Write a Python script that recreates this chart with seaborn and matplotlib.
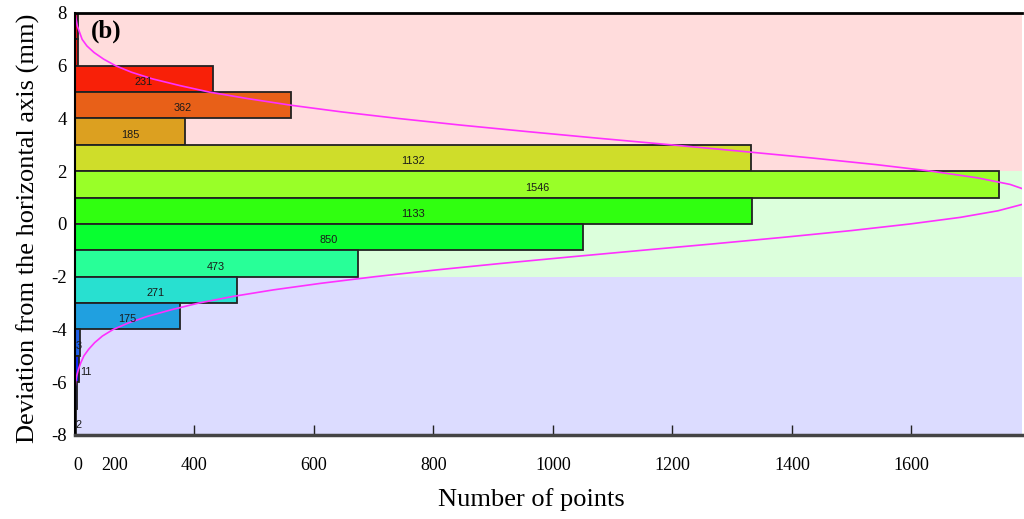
import matplotlib
matplotlib.use("Agg")
import matplotlib.pyplot as plt
import pandas as pd
import seaborn as sns

# ---------------------------------------------------------------------------
# Data
# ---------------------------------------------------------------------------
BIN_CENTERS = [7.5, 6.5, 5.5, 4.5, 3.5, 2.5, 1.5, 0.5,
               -0.5, -1.5, -2.5, -3.5, -4.5, -5.5, -6.5, -7.5]
# bar lengths as drawn
COUNTS = [5, 5, 231, 362, 185, 1132, 1546, 1133,
          850, 473, 271, 175, 9, 7, 4, 1]
# numbers printed on the bars
BAR_LABELS = ["", "", "231", "362", "185", "1132", "1546", "1133",
              "850", "473", "271", "175", "3", "11", "", "2"]
BAR_COLORS = ["#e81818", "#ee1a10", "#f82008", "#e86018", "#dca020", "#cfdd2a",
              "#99ff28", "#30ff10", "#08ff30", "#28ff98", "#28e0d0", "#20a0e0",
              "#2060e8", "#1028f8", "#1010d0", "#1010c0"]

# magenta distribution curve
CURVE_Y = [8.0, 7.75, 7.5, 7.25, 7.0, 6.75, 6.5, 6.25, 6.0, 5.75, 5.5, 5.25,
           5.0, 4.75, 4.5, 4.25, 4.0, 3.75, 3.5, 3.25, 3.0, 2.75, 2.5, 2.25,
           2.0, 1.75, 1.5, 1.25, 1.0, 0.75, 0.5, 0.25, 0.0, -0.25, -0.5,
           -0.75, -1.0, -1.25, -1.5, -1.75, -2.0, -2.25, -2.5, -2.75, -3.0,
           -3.25, -3.5, -3.75, -4.0, -4.25, -4.5, -4.75, -5.0, -5.25, -5.5,
           -5.75, -6.0, -6.25, -6.5, -8.0]
CURVE_X = [0, 2, 4, 8, 12, 20, 32, 48, 68, 95, 130, 175,
           225, 290, 362, 446, 541, 645, 758, 876, 998, 1118, 1234, 1341,
           1434, 1510, 1565, 1597, 1605, 1587, 1545, 1482, 1398, 1300, 1189,
           1071, 949, 829, 712, 602, 502, 412, 332, 264, 207,
           162, 122, 90, 64, 46, 33, 23, 15, 10, 6,
           3, 1, 0, 0, 0]

# background zones (lower, upper, colour)
ZONES = [(2, 8, "#ffdcdc"), (-2, 2, "#dcffdc"), (-8, -2, "#dcdcff")]

XTICK_POS = [5, 67, 200, 400, 600, 800, 1000, 1200, 1400]
XTICK_LABELS = ["0", "200", "400", "600", "800", "1000", "1200", "1400", "1600"]
YTICKS = [8, 6, 4, 2, 0, -2, -4, -6, -8]

sns.set_theme(style="white")
plt.rcParams["font.family"] = ["Liberation Serif", "DejaVu Serif"]
plt.rcParams["text.color"] = "black"
plt.rcParams["axes.labelcolor"] = "black"
plt.rcParams["xtick.color"] = "black"
plt.rcParams["ytick.color"] = "black"

fig = plt.figure(figsize=(10.24, 5.19), dpi=100)
ax = fig.add_axes([0.0732, 0.162, 0.9248, 0.813])

for lo, hi, col in ZONES:
    ax.axhspan(lo, hi, color=col, zorder=0, lw=0)

df = pd.DataFrame({"y": BIN_CENTERS, "count": COUNTS})
df["bin"] = df["y"].astype(str)
palette = dict(zip(df["bin"], BAR_COLORS))
sns.barplot(data=df, x="count", y="y", hue="bin", palette=palette,
            orient="y", native_scale=True, width=1.0, legend=False,
            edgecolor="#222222", linewidth=1.3, saturation=1, ax=ax, zorder=2)

for yc, cnt, lab in zip(BIN_CENTERS, COUNTS, BAR_LABELS):
    if not lab:
        continue
    if cnt > 50:
        xpos, ha = cnt / 2, "center"
    elif lab == "11":
        xpos, ha = cnt + 2, "left"
    else:
        xpos, ha = 1, "left"
    ax.text(xpos, yc - 0.12, lab, ha=ha, va="center", fontsize=7.8,
            family="Liberation Sans", color="#1a1a1a", zorder=4)

curve = pd.DataFrame({"x": CURVE_X, "y": CURVE_Y})
sns.lineplot(data=curve, x="x", y="y", sort=False, estimator=None,
             color="#ff30ff", lw=1.2, ax=ax, zorder=3)

ax.set_xlim(0, 1585)
ax.set_ylim(-8, 8)
ax.set_yticks(YTICKS)
ax.set_yticklabels([str(v) for v in YTICKS], fontsize=13.5)
ax.set_xticks(XTICK_POS)
ax.set_xticklabels(XTICK_LABELS, fontsize=13)
ax.tick_params(axis="x", direction="in", length=7, width=1, color="#222222",
               pad=16, bottom=True)
ax.tick_params(axis="y", length=0, pad=6, left=False)
for t in ax.xaxis.get_major_ticks()[:2]:
    t.tick1line.set_visible(False)

ax.set_xlabel("Number of points", fontsize=19)
ax.xaxis.set_label_coords(0.4815, -0.125)
ax.set_ylabel("Deviation from the horizontal axis (mm)", fontsize=19)
ax.yaxis.set_label_coords(-0.037, 0.49)

ax.text(0.017, 0.985, "(b)", transform=ax.transAxes, fontsize=18,
        fontweight="bold", va="top", ha="left", zorder=5)

ax.spines["right"].set_visible(False)
ax.spines["top"].set_color("black")
ax.spines["top"].set_linewidth(2)
ax.spines["left"].set_color("black")
ax.spines["left"].set_linewidth(1.5)
ax.spines["bottom"].set_color("#444444")
ax.spines["bottom"].set_linewidth(2.5)
for s in ax.spines.values():
    s.set_zorder(6)

fig.savefig("out.png", dpi=100)
